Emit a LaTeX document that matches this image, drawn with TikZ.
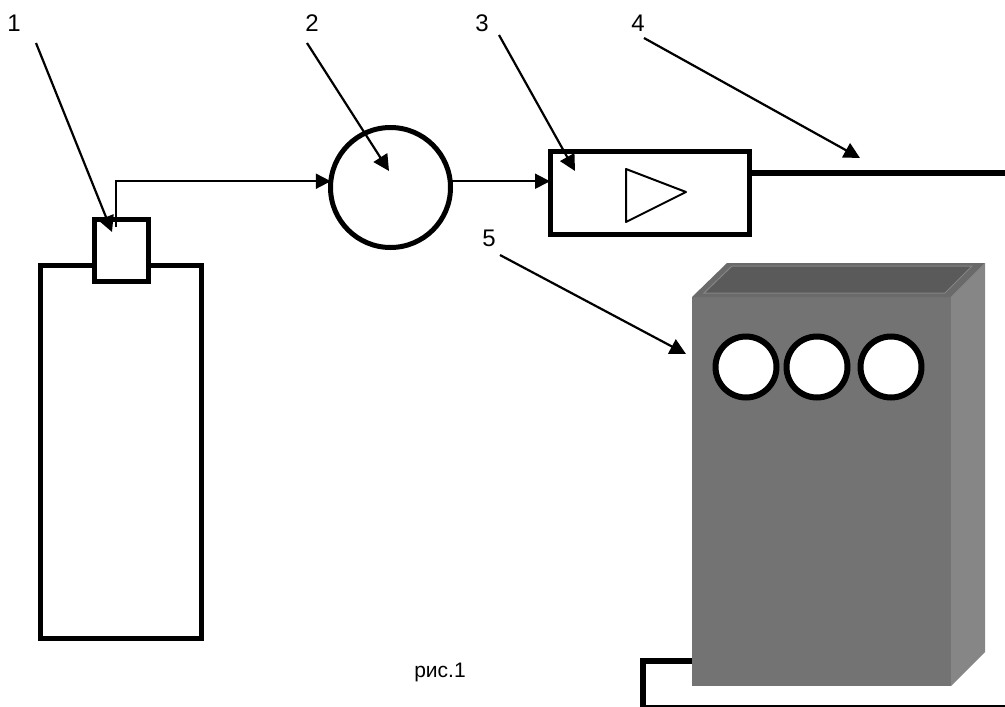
\documentclass[tikz,border=0pt]{standalone}
\usepackage{fontspec}
\setmainfont{Liberation Sans}
\usetikzlibrary{arrows.meta,positioning,calc}
\definecolor{ink}{HTML}{000000}
\definecolor{cabfront}{HTML}{737373}
\definecolor{cabside}{HTML}{868686}
\definecolor{cabtop}{HTML}{6A6A6A}
\definecolor{cablid}{HTML}{5A5A5A}
\definecolor{cabedge}{HTML}{858585}
\tikzset{
  thickbox/.style={draw=ink,fill=white,line width=5pt,inner sep=0pt,outer sep=0pt},
  dial/.style={draw=ink,fill=white,line width=6pt,circle,inner sep=0pt,outer sep=0pt,minimum size=61pt},
  numlabel/.style={font=\fontsize{24}{26}\selectfont,inner sep=0pt},
  caplabel/.style={font=\fontsize{21}{23}\selectfont,inner sep=0pt},
  flowarr/.style={-{Triangle[length=15pt,width=15pt]},line width=2pt},
  leader/.style={-{Triangle[length=16pt,width=16pt]},line width=2.2pt},
  thickline/.style={line width=5.5pt,color=ink}
}
\begin{document}
\begin{tikzpicture}[x=1pt,y=-1pt]
	\useasboundingbox (0,0) rectangle (1005,707);

	% cylinder
	\node[thickbox,minimum width=161pt,minimum height=373pt] (tank) at (120.5,451.5) {};
	\node[thickbox,minimum width=54pt,minimum height=62pt] (valve) at (121,250) {};

	% pump and amplifier
	\node[thickbox,circle,minimum size=120pt] (pump) at (390.5,187.5) {};
	\node[thickbox,minimum width=199pt,minimum height=83pt] (amp) at (649.5,192.5) {};
	\draw[line width=2pt,line join=round] (626,169) -- (686,192) -- (626,222) -- cycle;

	\coordinate (gasout) at (116,227);
	\coordinate (lineend) at (1005,173);
	\draw[flowarr] (gasout) |- (pump.174);
	\draw[flowarr] (pump.6) -- (pump.6 -| amp.west);
	\draw[thickline] (lineend -| amp.east) -- (lineend);

	% cabinet
	\node[fill=cabfront,inner sep=0pt,outer sep=0pt,minimum width=259pt,minimum height=389pt] (cab) at (821.5,491.5) {};
	\fill[cabside] (cab.north east) -- (985,263) -- (985,652) -- (cab.south east) -- cycle;
	\fill[cabtop] (cab.north west) -- (727,263) -- (985,263) -- (cab.north east) -- cycle;
	\draw[cabedge,fill=cablid,line width=1pt] (704,293) -- (732,266) -- (972,266) -- (945,293) -- cycle;
	\node[dial] (dial1) at (746,367) {};
	\node[dial] (dial2) at (817,367) {};
	\node[dial] (dial3) at (891,367) {};

	% cable
	\coordinate (cabin) at (cab.west |- 0,661);
	\coordinate (cabdown) at (643,707);
	\coordinate (floorend) at (1005,706);
	\draw[thickline,line join=miter] (cabin) -| (cabdown);
	\draw[line width=1.2pt] (cabdown |- floorend) -- (floorend);

	% labels
	\node[numlabel] (lab1) at (14,23) {1};
	\node[numlabel] (lab2) at (312,23) {2};
	\node[numlabel] (lab3) at (482,23) {3};
	\node[numlabel] (lab4) at (638,23) {4};
	\node[numlabel] (lab5) at (489,238) {5};
	\node[caplabel] (figname) at (440,672) {рис.1};

	\coordinate (tip1) at (112,232);
	\coordinate (tip2) at (389,171);
	\coordinate (tip3) at (575,171);
	\coordinate (tip4) at (860,158);
	\coordinate (tip5) at (686,354);
	\draw[leader] ($(lab1)+(22,20)$) -- (tip1);
	\draw[leader] ($(lab2)+(-5,20)$) -- (tip2);
	\draw[leader] ($(lab3)+(17,12)$) -- (tip3);
	\draw[leader] ($(lab4)+(6,15)$) -- (tip4);
	\draw[leader] ($(lab5)+(11,17)$) -- (tip5);
\end{tikzpicture}
\end{document}
